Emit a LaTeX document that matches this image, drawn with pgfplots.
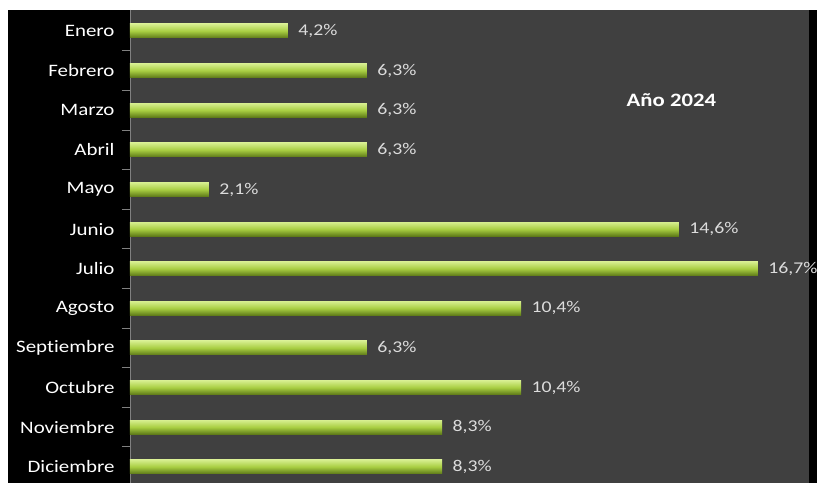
\documentclass[border=0pt]{standalone}
\usepackage{pgfplots}
\pgfplotsset{compat=1.18}
\usepackage{fontspec}
\setmainfont{Carlito}[FakeStretch=1.2, Ligatures=NoCommon]
\definecolor{plotgray}{HTML}{404040}
\definecolor{valgray}{HTML}{DCDCDC}
\definecolor{barTop}{HTML}{D6EE8E}
\definecolor{barMid}{HTML}{A8CE42}
\definecolor{barBot}{HTML}{5E7A18}

\begin{document}
\begin{tikzpicture}
\fill[white] (-130bp,0) rectangle (687bp,483bp);
\fill[black] (-122bp,0) rectangle (687bp,473bp);
\begin{axis}[
    at={(0,0)}, anchor=south west,
    scale only axis,
    width=679bp, height=473bp,
    xmin=0, xmax=18.06,
    ymin=-0.53, ymax=11.41,
    y dir=reverse,
    xbar, bar width=14bp, bar shift=0pt,
    axis x line=none,
    axis y line=left,
    y axis line style={-, draw=gray},
    xtick=\empty,
    axis background/.style={fill=plotgray},
    ytick={0,...,11},
    yticklabels={Enero,Febrero,Marzo,Abril,Mayo,Junio,Julio,Agosto,Septiembre,Octubre,Noviembre,Diciembre},
    minor ytick={0.5,1.5,...,10.5},
    major tick length=0pt,
    minor tick length=8bp,
    ytick align=outside,
    every minor tick/.append style={draw=gray, line width=1pt},
    minor y tick style={draw=gray, line width=1pt},
    yticklabel style={font=\fontsize{17.5}{20}\selectfont, text=white, xshift=-12bp},
    /pgf/number format/fixed,
    /pgf/number format/fixed zerofill,
    /pgf/number format/precision=1,
    /pgf/number format/use comma,
    /pgf/number format/assume math mode=true,
    nodes near coords={\pgfmathprintnumber{\pgfplotspointmeta}\%},
    nodes near coords style={font=\fontsize{16.5}{18}\selectfont, text=valgray, anchor=west, xshift=7bp},
    every axis plot/.append style={draw=none, top color=barTop, bottom color=barBot, middle color=barMid},
]
\addplot coordinates {(4.2,0)};
\addplot coordinates {(6.3,1)};
\addplot coordinates {(6.3,2)};
\addplot coordinates {(6.3,3)};
\addplot coordinates {(2.1,4)};
\addplot coordinates {(14.6,5)};
\addplot coordinates {(16.7,6)};
\addplot coordinates {(10.4,7)};
\addplot coordinates {(6.3,8)};
\addplot coordinates {(10.4,9)};
\addplot coordinates {(8.3,10)};
\addplot coordinates {(8.3,11)};
\node[font=\fontsize{19}{22}\selectfont\bfseries, text=white] at (axis cs:14.4,1.74) {Año 2024};
\end{axis}
\pgfresetboundingbox
\useasboundingbox (-130bp,0) rectangle (687bp,483bp);
\end{tikzpicture}
\end{document}
